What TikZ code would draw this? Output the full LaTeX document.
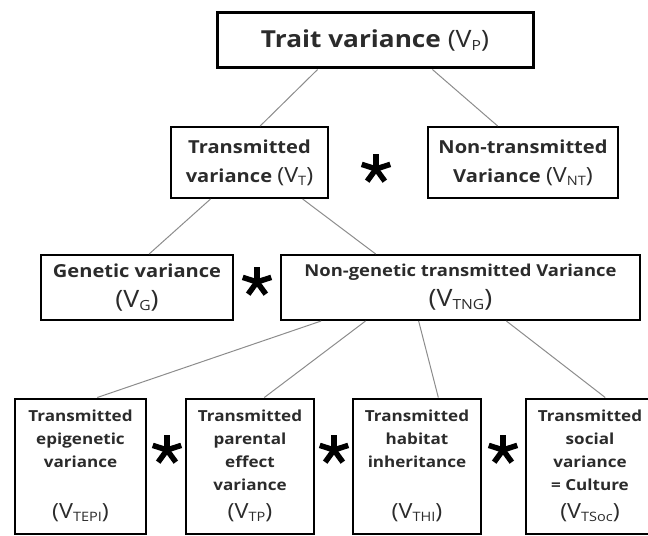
\documentclass[tikz,border=0pt]{standalone}
\usepackage{fontspec}
\usepackage{graphicx}
\setmainfont{Open Sans}[FakeStretch=1.12]
\usetikzlibrary{calc}
\definecolor{txt}{HTML}{2B2B2B}
\definecolor{conncol}{HTML}{8C8C8C}
% #1 size of V, #2 size of subscript, #3 subscript
\newcommand\vsub[3]{{\mdseries\fontsize{#1}{#1}\selectfont(V{\fontsize{#2}{#2}\selectfont\raisebox{-3bp}{#3}})}}
\tikzset{
  box/.style={draw=black, line width=2bp, rectangle, inner sep=0pt, align=center, text=txt},
  toptext/.style={font=\fontsize{23.5}{28}\selectfont\bfseries},
  midtext/.style={font=\fontsize{18}{29}\selectfont\bfseries},
  gentext/.style={font=\fontsize{17}{30}\selectfont\bfseries},
  lowtext/.style={font=\fontsize{15.3}{23}\selectfont\bfseries},
  conn/.style={draw=conncol, line width=1bp},
  astr/.pic={\foreach \a in {-90,-18,-162,54,126} \draw[line width=5.5bp, black] (0,0) -- (\a:15);}
}
\begin{document}
\begin{tikzpicture}[x=1bp, y=-1bp]
\useasboundingbox (0,0) rectangle (648,536);
% boxes
\node[box, line width=3bp, toptext, minimum width=316bp, minimum height=55bp] (vp) at (375,40.5) {Trait variance \vsub{24}{14}{P}};
\node[box, midtext, minimum width=157bp, minimum height=71bp] (vt) at (249.5,162.5) {Transmitted\\variance \vsub{21}{13}{T}};
\node[box, midtext, minimum width=190bp, minimum height=71bp] (vnt) at (523,162.5) {Non-transmitted\\Variance \vsub{21}{13}{NT}};
\node[box, gentext, minimum width=192bp, minimum height=65bp, font=\fontsize{18}{30}\selectfont\bfseries] (vg) at (137,287.5) {Genetic variance\\\vsub{24}{14}{G}};
\node[box, gentext, minimum width=359bp, minimum height=65bp, font=\fontsize{16.5}{30}\selectfont\bfseries] (vtng) at (460.5,287.5) {Non-genetic transmitted Variance\\\vsub{24}{14}{TNG}};
\node[box, lowtext, minimum width=131bp, minimum height=135bp] (vtepi) at (80.5,466) {Transmitted\\epigenetic\\variance\\\mbox{}\\[5bp]\vsub{21}{13}{TEPI}};
\node[box, lowtext, minimum width=128bp, minimum height=135bp] (vtp) at (250,466) {Transmitted\\parental\\effect\\variance\\[5bp]\vsub{21}{13}{TP}};
\node[box, lowtext, minimum width=128bp, minimum height=135bp] (vthi) at (417,466) {Transmitted\\habitat\\inheritance\\\mbox{}\\[5bp]\vsub{21}{13}{THI}};
\node[box, lowtext, minimum width=128bp, minimum height=135bp] (vtsoc) at (590,466) {Transmitted\\social\\variance\\= Culture\\[5bp]\vsub{21}{13}{TSoc}};
% connectors
\draw[conn] ($(vp.south west)!0.32!(vp.south east)$) -- ($(vt.north west)!0.567!(vt.north east)$);
\draw[conn] ($(vp.south west)!0.68!(vp.south east)$) -- ($(vnt.north west)!0.368!(vnt.north east)$);
\draw[conn] ($(vt.south west)!0.255!(vt.south east)$) -- ($(vg.north west)!0.5625!(vg.north east)$);
\draw[conn] ($(vt.south west)!0.834!(vt.south east)$) -- ($(vtng.north west)!0.265!(vtng.north east)$);
\draw[conn] ($(vtng.south west)!0.114!(vtng.south east)$) -- ($(vtepi.north west)!0.626!(vtepi.north east)$);
\draw[conn] ($(vtng.south west)!0.237!(vtng.south east)$) -- ($(vtp.north west)!0.61!(vtp.north east)$);
\draw[conn] ($(vtng.south west)!0.384!(vtng.south east)$) -- ($(vthi.north west)!0.664!(vthi.north east)$);
\draw[conn] ($(vtng.south west)!0.627!(vtng.south east)$) -- ($(vtsoc.north west)!0.617!(vtsoc.north east)$);
% asterisks
\pic at (376,169) {astr};
\pic at (257,282) {astr};
\pic at (167,450) {astr};
\pic at (334,450) {astr};
\pic at (503,450) {astr};
\end{tikzpicture}
\end{document}
